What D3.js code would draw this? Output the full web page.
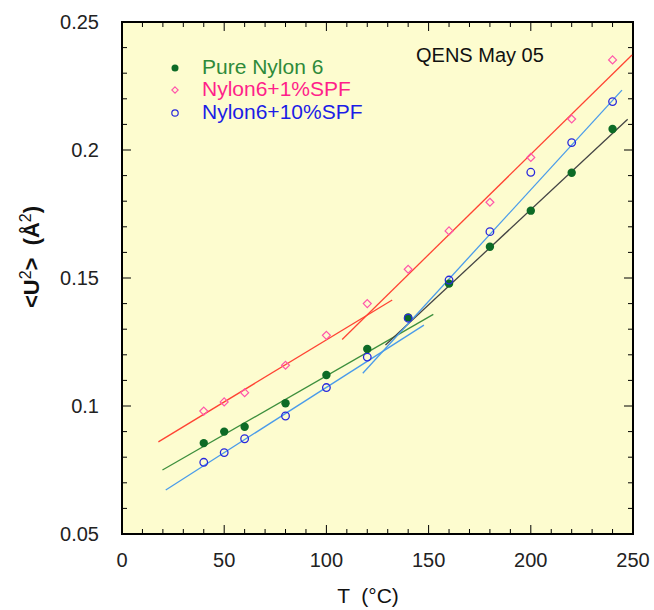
<!DOCTYPE html>
<html><head><meta charset="utf-8">
<script src="https://cdn.jsdelivr.net/npm/d3@7"></script>
<style>body{margin:0;background:#fff}svg{display:block}text{font-family:"Liberation Sans",Arial,sans-serif}</style>
</head><body><svg id="c" width="654" height="610"></svg>
<script>
const temps = [40,50,60,80,100,120,140,160,180,200,220,240];
const pureNylon = [0.0855,0.0900,0.0919,0.1011,0.1121,0.1223,0.1346,0.1478,0.1622,0.1763,0.1911,0.2082];
const spf1 = [0.0980,0.1016,0.1052,0.1159,0.1276,0.1400,0.1534,0.1684,0.1796,0.1971,0.2121,0.2352];
const spf10 = [0.0780,0.0818,0.0872,0.0961,0.1072,0.1191,0.1343,0.1492,0.1681,0.1913,0.2029,0.2189];
// fit segments: [T0, v0, T1, v1]
const fitsPure = [[19.8,0.0750,152.3,0.1358],[128.9,0.1238,247.4,0.2120]];
const fits1 = [[17.8,0.0860,132.2,0.1414],[107.7,0.1260,249.5,0.2371]];
const fits10 = [[21.4,0.0672,147.7,0.1316],[117.8,0.1128,244.6,0.2234]];
const xTicks = [0,50,100,150,200,250];
const yTicks = [0.05,0.1,0.15,0.2,0.25];
const legendLabels = ["Pure Nylon 6","Nylon6+1%SPF","Nylon6+10%SPF"];

const svg = d3.select("#c");
const L=122,R=633,T=22,B=534;
const x = d3.scaleLinear().domain([0,250]).range([L,R]);
const y = d3.scaleLinear().domain([0.05,0.25]).range([B,T]);

svg.append("rect").attr("x",L).attr("y",T).attr("width",R-L).attr("height",B-T).attr("fill","#fdfccf");

// ticks inward
const minorX = d3.range(0,251,10), minorY = d3.range(0.05,0.2501,0.01);
const g = svg.append("g").attr("stroke","#000").attr("stroke-width",1);
minorX.forEach(t=>{const len = (t%50===0)?9:5;
  g.append("line").attr("x1",x(t)).attr("x2",x(t)).attr("y1",B).attr("y2",B-len);
  g.append("line").attr("x1",x(t)).attr("x2",x(t)).attr("y1",T).attr("y2",T+len);});
minorY.forEach(t=>{const maj = Math.abs(Math.round(t*20)-t*20)<1e-6; const len = maj?9:5;
  g.append("line").attr("x1",L).attr("x2",L+len).attr("y1",y(t)).attr("y2",y(t));
  g.append("line").attr("x1",R).attr("x2",R-len).attr("y1",y(t)).attr("y2",y(t));});

svg.append("rect").attr("x",L).attr("y",T).attr("width",R-L).attr("height",B-T).attr("fill","none").attr("stroke","#000").attr("stroke-width",2);

// tick labels
svg.selectAll(".xt").data(xTicks).enter().append("text").attr("x",d=>x(d)).attr("y",567)
  .attr("text-anchor","middle").attr("font-size",20).attr("fill","#222").text(d=>d);
svg.selectAll(".yt").data(yTicks).enter().append("text").attr("x",99).attr("y",d=>y(d)+7)
  .attr("text-anchor","end").attr("font-size",20).attr("fill","#222").text(d=>d);

// axis titles
svg.append("text").attr("x",368).attr("y",603).attr("text-anchor","middle").attr("font-size",21).attr("fill","#111")
  .attr("xml:space","preserve").text("T  (°C)");
const yl = svg.append("text").attr("transform","translate(39,257) rotate(-90)").attr("text-anchor","middle")
  .attr("font-size",22).attr("fill","#111").attr("font-weight","bold").attr("xml:space","preserve");
yl.append("tspan").text("<U");
yl.append("tspan").attr("dy",-8).attr("font-size",16).attr("font-weight","normal").text("2");
yl.append("tspan").attr("dy",8).text(">  (Å");
yl.append("tspan").attr("dy",-8).attr("font-size",16).attr("font-weight","normal").text("2");
yl.append("tspan").attr("dy",8).text(")");

// fit lines
const line = d3.line().x(d=>x(d[0])).y(d=>y(d[1]));
function drawFits(f, colors){ f.forEach((s,i)=>{
  svg.append("path").attr("d",line([[s[0],s[1]],[s[2],s[3]]])).attr("stroke",colors[i]).attr("stroke-width",1.3).attr("fill","none");});}
drawFits(fits1,["#ff4433","#ff4433"]);
drawFits(fitsPure,["#3d8f3d","#444444"]);
drawFits(fits10,["#4a9bea","#4a9bea"]);

// markers
const pts = (vals)=>temps.map((t,i)=>[t,vals[i]]);
svg.selectAll(".p1").data(pts(spf1)).enter().append("path")
  .attr("d",d3.symbol().type(d3.symbolDiamond2).size(40))
  .attr("transform",d=>`translate(${x(d[0])},${y(d[1])})`)
  .attr("fill","none").attr("stroke","#ff55aa").attr("stroke-width",1.2);
svg.selectAll(".p0").data(pts(pureNylon)).enter().append("circle")
  .attr("cx",d=>x(d[0])).attr("cy",d=>y(d[1])).attr("r",4.2).attr("fill","#0d6b26");
svg.selectAll(".p2").data(pts(spf10)).enter().append("circle")
  .attr("cx",d=>x(d[0])).attr("cy",d=>y(d[1])).attr("r",3.8).attr("fill","none").attr("stroke","#2828dd").attr("stroke-width",1.3);

// legend
const lg = svg.append("g");
const ly = [68,90,113];
lg.append("circle").attr("cx",175).attr("cy",ly[0]).attr("r",3.5).attr("fill","#0d6b26");
lg.append("path").attr("d",d3.symbol().type(d3.symbolDiamond2).size(26)).attr("transform",`translate(175,${ly[1]})`)
  .attr("fill","none").attr("stroke","#ff55aa").attr("stroke-width",1.1);
lg.append("circle").attr("cx",175).attr("cy",ly[2]).attr("r",3.2).attr("fill","none").attr("stroke","#2828dd").attr("stroke-width",1.2);
const lc = ["#2e8a3a","#ff1f8a","#1c1ce6"];
legendLabels.forEach((t,i)=>lg.append("text").attr("x",202).attr("y",ly[i]+6).attr("font-size",21).attr("fill",lc[i]).text(t));
svg.append("text").attr("x",416).attr("y",62).attr("font-size",20).attr("fill","#111").text("QENS May 05");
</script></body></html>
